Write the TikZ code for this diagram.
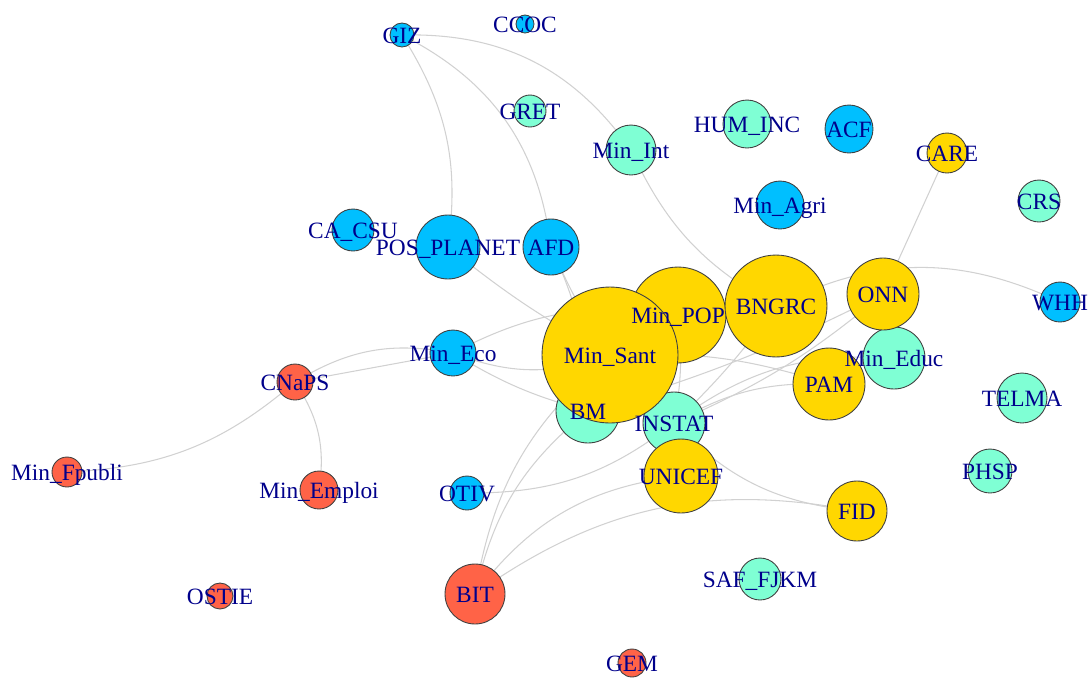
\documentclass[tikz,border=0pt]{standalone}
\usepackage{fontspec}
\setmainfont{Liberation Serif}
\usetikzlibrary{backgrounds}
\definecolor{netgold}{RGB}{255,215,0}
\definecolor{netblue}{RGB}{0,191,255}
\definecolor{netaqua}{RGB}{127,255,212}
\definecolor{nettomato}{RGB}{255,99,71}
\definecolor{netlabel}{RGB}{0,0,139}
\tikzset{
  my vertex/.style 2 args={circle, draw=black!75, line width=0.5pt, fill=#1,
    minimum size=#2*0.04cm, inner sep=0pt},
  my label/.style={text=netlabel, font=\fontsize{13.3}{15}\selectfont,
    inner sep=0pt, text height=1.55ex, text depth=0pt, yshift=-1.2pt},
  my edge/.style={draw=black!18, line width=0.6pt}
}

\begin{document}
\begin{tikzpicture}[x=0.02cm, y=0.02cm]
    \useasboundingbox (0,0) rectangle (1089,-677);

    % vertices (drawing order matters for the overlaps)
    \foreach \name/\x/\y/\r/\col in {
        ccoc/525/24/9/netblue, giz/402/35/12/netblue, gret/530/111/16/netaqua,
        minint/631/150/25/netaqua, humin/747/124/24/netaqua, acf/849/129/24/netblue,
        care/947/153/20/netgold, minagri/780/205/24/netblue, crs/1039/201/21/netaqua,
        casu/353/230/21/netblue, posplanet/448/247/32/netblue, afd/551/247/28/netblue,
        whh/1060/302/20/netblue, minpop/678/315/48/netgold, bm/588/411/32/netaqua,
        instat/674/423/31/netaqua, minsant/610/355/68/netgold, bngrc/776/306/51/netgold,
        mineduc/894/358/31/netaqua, onn/883/294/36/netgold, pam/829/384/36/netgold,
        unicef/681/476/37/netgold, telma/1022/398/25/netaqua, phsp/990/471/22/netaqua,
        mineco/453/353/23/netblue, cnaps/295/382/18/nettomato,
        minfpubli/67/472/15/nettomato, minemploi/319/490/19/nettomato,
        otiv/467/493/17/netblue, fid/857/511/30/netgold, safjkm/760/579/21/netaqua,
        bit/475/594/30/nettomato, ostie/220/596/13/nettomato, gem/632/663/14/nettomato}
      \node[my vertex={\col}{\r}] (\name) at (\x,-\y) {};

    % labels on top of all vertices
    \foreach \name/\txt in {
        ccoc/CCOC, giz/GIZ, gret/GRET, minint/Min\_Int, humin/HUM\_INC, acf/ACF,
        care/CARE, minagri/Min\_Agri, crs/CRS, casu/CA\_CSU, posplanet/POS\_PLANET,
        afd/AFD, whh/WHH, minpop/Min\_POP, bm/BM, instat/INSTAT, minsant/Min\_Sant,
        bngrc/BNGRC, mineduc/Min\_Educ, onn/ONN, pam/PAM, unicef/UNICEF, telma/TELMA,
        phsp/PHSP, mineco/Min\_Eco, cnaps/CNaPS, minfpubli/Min\_Fpubli,
        minemploi/Min\_Emploi, otiv/OTIV, fid/FID, safjkm/SAF\_FJKM, bit/BIT,
        ostie/OSTIE, gem/GEM}
      \node[my label] (\name-txt) at (\name) {\txt};

    % edges, center to center, behind the vertices
    \begin{scope}[on background layer]
      \draw[my edge] (giz.center) to[bend left=28] (minint.center);
      \draw[my edge] (giz.center) to[bend left=20] (posplanet.center);
      \draw[my edge] (giz.center) to[bend left=28] (afd.center);
      \draw[my edge] (minint.center) to[bend right=18] (bngrc.center);
      \draw[my edge] (care.center) -- (onn.center);
      \draw[my edge] (bngrc.center) to[bend left=26] (whh.center);
      \draw[my edge] (afd.center) to[bend right=5] (minsant.center);
      \draw[my edge] (afd.center) to[bend left=12] (bm.center);
      \draw[my edge] (posplanet.center) to[bend right=5] (minsant.center);
      \draw[my edge] (mineco.center) to[bend left=18] (minpop.center);
      \draw[my edge] (mineco.center) to[bend right=20] (minsant.center);
      \draw[my edge] (mineco.center) to[bend right=8] (bm.center);
      \draw[my edge] (cnaps.center) -- (mineco.center);
      \draw[my edge] (cnaps.center) to[bend left=21] (mineco.center);
      \draw[my edge] (cnaps.center) to[bend left=19] (minfpubli.center);
      \draw[my edge] (cnaps.center) to[bend left=21] (minemploi.center);
      \draw[my edge] (otiv.center) to[bend right=19] (instat.center);
      \draw[my edge] (bit.center) to[bend left=19] (bm.center);
      \draw[my edge] (bit.center) to[bend left=20] (minsant.center);
      \draw[my edge] (bit.center) to[bend left=23] (unicef.center);
      \draw[my edge] (bit.center) to[bend left=23] (fid.center);
      \draw[my edge] (instat.center) to[bend right=20] (fid.center);
      \draw[my edge] (minpop.center) to[bend left=8] (instat.center);
      \draw[my edge] (minsant.center) to[bend left=10] (pam.center);
      \draw[my edge] (instat.center) to[bend left=16] (pam.center);
      \draw[my edge] (instat.center) to[bend right=5] (bngrc.center);
      \draw[my edge] (instat.center) to[bend left=20] (mineduc.center);
      \draw[my edge] (instat.center) to[bend right=8] (onn.center);
      \draw[my edge] (bm.center) to[bend right=5] (onn.center);
    \end{scope}
  \end{tikzpicture}
\end{document}
